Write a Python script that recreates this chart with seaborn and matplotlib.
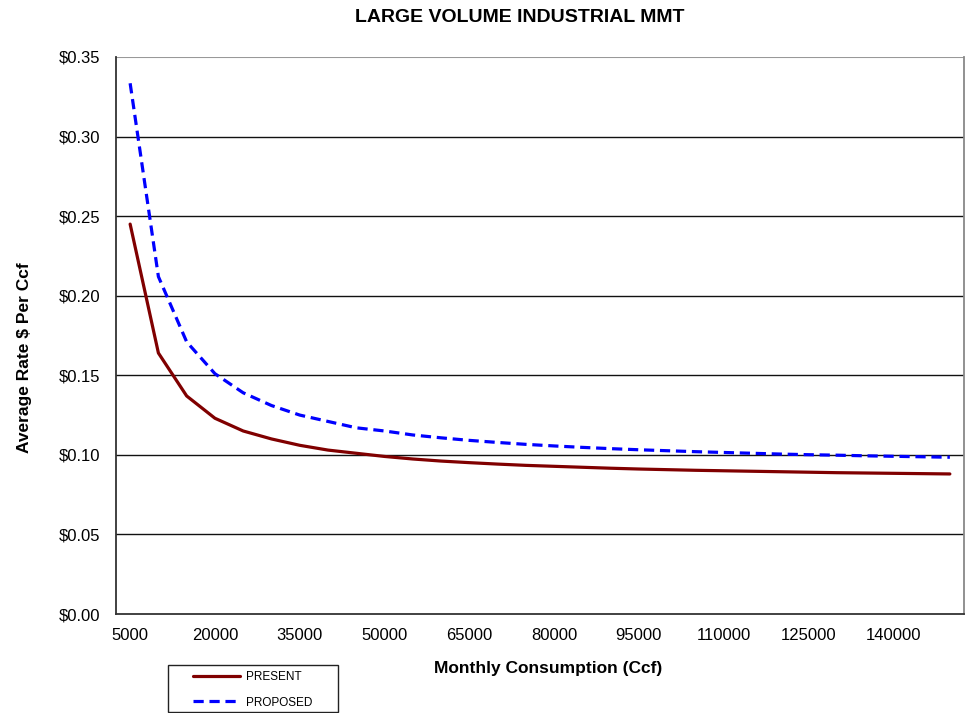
import numpy as np
import pandas as pd
import matplotlib
matplotlib.use("Agg")
import matplotlib.pyplot as plt
from matplotlib.lines import Line2D
from matplotlib.patches import Rectangle
import seaborn as sns

# Monthly consumption levels (Ccf)
consumption = [5000, 10000, 15000, 20000, 25000, 30000, 35000, 40000, 45000, 50000,
               55000, 60000, 65000, 70000, 75000, 80000, 85000, 90000, 95000, 100000,
               105000, 110000, 115000, 120000, 125000, 130000, 135000, 140000, 145000, 150000]

# Average rate, $ per Ccf
present = [0.245, 0.164, 0.137, 0.123, 0.115, 0.110, 0.106, 0.103, 0.101, 0.099,
           0.0974, 0.0961, 0.0951, 0.0942, 0.0934, 0.0928, 0.0922, 0.0916, 0.0911, 0.0907,
           0.0903, 0.0900, 0.0897, 0.0894, 0.0891, 0.0888, 0.0886, 0.0884, 0.0882, 0.0880]
proposed = [0.3335, 0.212, 0.171, 0.151, 0.139, 0.131, 0.125, 0.121, 0.117, 0.115,
            0.1125, 0.1107, 0.1091, 0.1078, 0.1066, 0.1056, 0.1047, 0.1039, 0.1032, 0.1026,
            0.1020, 0.1015, 0.1010, 0.1005, 0.1001, 0.0998, 0.0994, 0.0991, 0.0988, 0.0985]

series_names = ["PRESENT", "PROPOSED"]
tick_labels = [5000, 20000, 35000, 50000, 65000, 80000, 95000, 110000, 125000, 140000]
y_ticks = [0.00, 0.05, 0.10, 0.15, 0.20, 0.25, 0.30, 0.35]

colors = {"PRESENT": "#800000", "PROPOSED": "#0000FF"}
dash_pattern = (3.2, 1.8)

df = pd.DataFrame({
    "Consumption": consumption * 2,
    "Rate": present + proposed,
    "Series": [series_names[0]] * len(present) + [series_names[1]] * len(proposed),
})

sns.set_style("white")
plt.rcParams["font.family"] = ["Liberation Sans", "DejaVu Sans"]
plt.rcParams.update({"text.color": "black", "axes.labelcolor": "black",
                     "xtick.color": "black", "ytick.color": "black"})

W, H = 971, 713
fig = plt.figure(figsize=(W / 100, H / 100), dpi=100)
ax = fig.add_axes([116 / W, 1 - 614 / H, (964 - 116) / W, (614 - 57) / H])

sns.lineplot(
    data=df, x="Consumption", y="Rate", hue="Series", style="Series",
    palette=colors,
    dashes={"PRESENT": "", "PROPOSED": dash_pattern},
    linewidth=2.3, ax=ax, legend=False, zorder=3,
)

step = consumption[1] - consumption[0]
ax.set_xlim(consumption[0] - step / 2, consumption[-1] + step / 2)
ax.set_ylim(0, 0.35)

# minor ticks mark category boundaries, major ticks carry labels
ax.set_xticks(np.arange(consumption[0] - step / 2, consumption[-1] + step, step), minor=True)
ax.set_xticks(tick_labels)
ax.set_xticklabels([str(t) for t in tick_labels], fontsize=12)
ax.tick_params(axis="x", which="major", length=0, pad=10)
ax.tick_params(axis="x", which="minor", length=5, width=1, color="#222222", direction="out")

ax.set_yticks(y_ticks)
ax.set_yticklabels([f"${v:.2f}" for v in y_ticks], fontsize=12)
ax.tick_params(axis="y", length=6, width=1, color="#222222", direction="out", pad=5)

for v in y_ticks[1:-1]:
    ax.axhline(v, color="#111111", linewidth=1.0, zorder=1)
ax.axhline(y_ticks[-1], color="#999999", linewidth=1.5, zorder=1)

for side in ["left", "bottom"]:
    ax.spines[side].set_color("#333333")
    ax.spines[side].set_linewidth(1.3)
ax.spines["right"].set_color("#888888")
ax.spines["right"].set_linewidth(1.3)
ax.spines["top"].set_visible(False)

ax.set_xlabel("")
ax.set_ylabel("")
fig.text(548 / W, 1 - 668 / H, "Monthly Consumption (Ccf)", fontsize=12.5,
         fontweight="bold", ha="center", va="center")
fig.text(25 / W, 1 - 358 / H, "Average Rate $ Per Ccf", fontsize=12.5,
         fontweight="bold", ha="center", va="center", rotation=90)
fig.text(520 / W, 1 - 18 / H, "LARGE VOLUME INDUSTRIAL MMT", fontsize=14,
         fontweight="bold", ha="center", va="center")

# legend below the plot, with its own frame
handles = [
    Line2D([], [], color=colors["PRESENT"], linewidth=2.3),
    Line2D([], [], color=colors["PROPOSED"], linewidth=2.3, dashes=dash_pattern),
]
fig.legend(handles, series_names, loc="upper left",
           bbox_to_anchor=(193 / W, 1 - 671 / H), fontsize=8.5, frameon=False,
           handlelength=4.0, handletextpad=0.45, borderpad=0,
           labelspacing=1.15, borderaxespad=0)
fig.add_artist(Rectangle((168 / W, 1 - 712 / H), 170 / W, 47 / H,
                         transform=fig.transFigure, fill=False,
                         edgecolor="#222222", linewidth=1.0))

fig.savefig("out.png", dpi=100)
